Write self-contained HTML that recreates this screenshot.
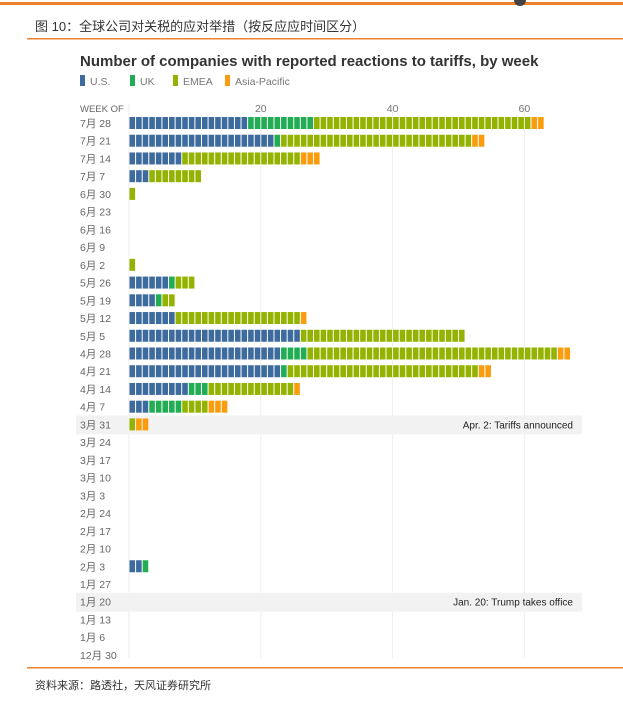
<!DOCTYPE html>
<html><head><meta charset="utf-8">
<style>
body{margin:0;width:623px;height:713px;background:#fff;overflow:hidden;font-family:"Liberation Sans","Noto Sans CJK SC",sans-serif;}
</style></head>
<body>
<svg id="c" width="623" height="713" xmlns="http://www.w3.org/2000/svg">
<rect x="0" y="2" width="623" height="3" fill="#f0822d"/>
<circle cx="520" cy="0" r="6" fill="#444"/>
<text x="35" y="31" font-size="13" fill="#333" font-family="'Liberation Sans','Noto Sans CJK SC',sans-serif">图 10：全球公司对关税的应对举措（按反应应时间区分）</text>
<rect x="27" y="38" width="596" height="1.5" fill="#f0822d"/>
<text x="80" y="66" font-size="15" font-weight="bold" fill="#333">Number of companies with reported reactions to tariffs, by week</text>
<g id="legend"></g>
<g id="plot"></g>
<rect x="27" y="667" width="596" height="1.5" fill="#f0822d"/>
<text x="35" y="689" font-size="11" fill="#333" font-family="'Liberation Sans','Noto Sans CJK SC',sans-serif">资料来源：路透社，天风证券研究所</text>
</svg>
<script>
const weeks=["7月 28","7月 21","7月 14","7月 7","6月 30","6月 23","6月 16","6月 9","6月 2","5月 26","5月 19","5月 12","5月 5","4月 28","4月 21","4月 14","4月 7","3月 31","3月 24","3月 17","3月 10","3月 3","2月 24","2月 17","2月 10","2月 3","1月 27","1月 20","1月 13","1月 6","12月 30"];
const usVals  =[18,22,8,3,0,0,0,0,0,6,4,7,26,23,23,9,3,0,0,0,0,0,0,0,0,2,0,0,0,0,0];
const ukVals  =[10,1,0,0,0,0,0,0,0,1,1,0,0,4,1,3,5,0,0,0,0,0,0,0,0,1,0,0,0,0,0];
const emeaVals=[33,29,18,8,1,0,0,0,1,3,2,19,25,38,29,13,4,1,0,0,0,0,0,0,0,0,0,0,0,0,0];
const apVals  =[2,2,3,0,0,0,0,0,0,0,0,1,0,2,2,1,3,2,0,0,0,0,0,0,0,0,0,0,0,0,0];
const xTicks=[20,40,60];
const seriesNames=["U.S.","UK","EMEA","Asia-Pacific"];
const colors=["#3e6b9e","#22ad55","#94b300","#f99d0f"];
const events=[{week:"3月 31",label:"Apr. 2: Tariffs announced"},{week:"1月 20",label:"Jan. 20: Trump takes office"}];

const NS="http://www.w3.org/2000/svg";
const x0=129,unit=6.59,y0=123,step=17.73,bh=12;
const xs=v=>x0+v*unit, ys=i=>y0+i*step;
function mk(tag,attrs,parent,txt){const e=document.createElementNS(NS,tag);for(const k in attrs)e.setAttribute(k,attrs[k]);if(txt!==undefined)e.textContent=txt;parent.appendChild(e);return e;}
const plot=document.getElementById('plot'),legend=document.getElementById('legend');
const lx=[80,130,173,225];
seriesNames.forEach((n,i)=>{
 const r=mk('rect',{x:lx[i],y:75,width:5,height:11,fill:colors[i]},legend);
 
 
 const t=mk('text',{x:lx[i]+10,y:85,'font-size':10.5,fill:'#777'},legend,n);
 
 
});
[0].concat(xTicks).forEach(v=>{
 const l=mk('line',{x1:xs(v),x2:xs(v),y1:104,y2:658,stroke:'#eeeeee','stroke-width':1},plot);
 
 
});
events.forEach((ev,k)=>{
 const i=weeks.indexOf(ev.week);
 const b=mk('rect',{x:76,y:ys(i)-9,width:506,height:19,fill:'#f2f2f2'},plot);
 
 
 const t=mk('text',{x:573,y:ys(i)+4,'font-size':10,fill:'#222','text-anchor':'end'},plot,ev.label);
 
 
});
xTicks.forEach(v=>{
 const t=mk('text',{x:xs(v),y:112,'font-size':10.5,fill:'#777','text-anchor':'middle'},plot,v);
 
 
});
const wt=mk('text',{x:80,y:112,'font-size':9.5,fill:'#666'},plot,'WEEK OF');


const all=[usVals,ukVals,emeaVals,apVals];
weeks.forEach((w,i)=>{
 const t=mk('text',{x:80,y:ys(i)+4,'font-size':10.5,fill:'#666'},plot,w);
 
 
 let c=0;
 all.forEach((arr,s)=>{
  for(let k=0;k<arr[i];k++){
   const r=mk('rect',{x:xs(c)+0.5,y:ys(i)-6,width:unit-1,height:bh,fill:colors[s]},plot);
   
   
   c++;
  }
 });
});
</script>
</body></html>
